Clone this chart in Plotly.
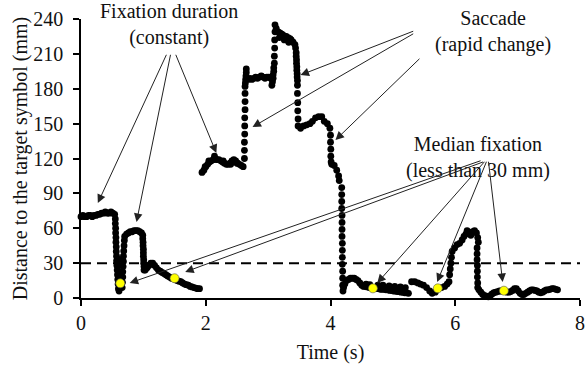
import plotly.graph_objects as go

# ---------------- data ----------------
time_s = [
    # fixation 1 (~72 mm)
    0.00, 0.03, 0.06, 0.09, 0.12, 0.15, 0.18, 0.21, 0.24, 0.27, 0.30, 0.33, 0.36, 0.39, 0.42, 0.45, 0.48, 0.51, 0.54,
    # saccade down
    0.55, 0.55, 0.555, 0.555, 0.56, 0.56, 0.565, 0.565, 0.57, 0.57, 0.575, 0.58, 0.585, 0.59, 0.595,
    0.60, 0.61, 0.62,
    0.60, 0.60, 0.60, 0.60, 0.60,
    # saccade up
    0.66, 0.665, 0.67, 0.67, 0.675, 0.68, 0.68, 0.685, 0.69, 0.695,
    # fixation 2 (~56 mm)
    0.70, 0.73, 0.76, 0.79, 0.82, 0.85, 0.88, 0.91, 0.94, 0.97,
    # drop
    0.99, 0.99, 0.995, 0.995, 1.00, 1.00, 1.00, 1.005, 1.005, 1.01, 1.01,
    # fixation 3 (slow drift down)
    1.03, 1.06, 1.09, 1.12, 1.15, 1.18, 1.21, 1.24, 1.27, 1.30, 1.33, 1.36, 1.39, 1.42, 1.45, 1.48, 1.51, 1.54,
    1.57, 1.60, 1.63, 1.66, 1.69, 1.72, 1.75, 1.78, 1.81, 1.84, 1.87, 1.90,
    # fixation 4 (~116 mm)
    1.94, 1.97, 2.00, 2.03, 2.06, 2.09, 2.12, 2.15, 2.18, 2.21, 2.24, 2.27, 2.30, 2.33, 2.36, 2.39, 2.42, 2.45,
    2.48, 2.51, 2.54, 2.57, 2.60, 1.99, 2.05, 2.14, 2.28, 2.40, 2.50,
    # saccade up
    2.62, 2.62, 2.62, 2.625, 2.625, 2.625, 2.63, 2.63, 2.63,
    # fixation 5 (~190 mm)
    2.63, 2.635, 2.64, 2.645, 2.65, 2.65,
    2.68, 2.71, 2.74, 2.77, 2.80, 2.83, 2.86, 2.89, 2.92, 2.95, 2.98, 3.01, 3.04,
    3.06, 3.07, 3.08, 3.08, 3.09, 3.09,
    # saccade up
    3.10, 3.10, 3.105, 3.105, 3.11,
    # fixation 6 (~226 mm)
    3.11, 3.13, 3.16, 3.19, 3.22, 3.24, 3.27, 3.29, 3.32, 3.35, 3.37, 3.40, 3.43, 3.44, 3.18, 3.26, 3.33,
    # saccade down
    3.45, 3.45, 3.455, 3.455, 3.46, 3.46, 3.465, 3.465, 3.47, 3.47, 3.47, 3.475, 3.475, 3.48,
    # fixation 7 (~150 mm)
    3.48, 3.52, 3.57, 3.62, 3.67, 3.71, 3.76, 3.81, 3.86, 3.90, 3.95, 3.99,
    # saccade down (with a short pause)
    4.00, 4.00, 4.005, 4.005, 4.01,
    4.02, 4.06, 4.10, 4.13, 4.14,
    4.18, 4.18, 4.18, 4.18, 4.185, 4.185, 4.185, 4.185, 4.19, 4.19, 4.19, 4.19, 4.195, 4.195, 4.195, 4.20,
    # fixation 8 (~8 mm)
    4.21, 4.23, 4.26, 4.29, 4.32, 4.35, 4.38, 4.41, 4.44, 4.47, 4.50, 4.53, 4.56, 4.59, 4.62, 4.65, 4.68, 4.71,
    4.74, 4.77, 4.80, 4.83, 4.86, 4.89, 4.92, 4.95, 4.98, 5.01, 5.04, 5.07, 5.10, 5.13, 5.16, 5.19, 5.22, 5.25,
    4.57, 4.63, 4.76, 4.84, 4.94, 5.03, 5.12, 5.20,
    # fixation 9 (~8 mm)
    5.30, 5.35, 5.40, 5.44, 5.49, 5.54, 5.59, 5.63, 5.68, 5.73, 5.78, 5.83, 5.87, 5.90,
    # rise
    5.91, 5.92, 5.93, 5.94, 5.95, 5.99, 6.03, 6.07, 6.11, 6.14,
    # fixation 10 (~56 mm)
    6.17, 6.19, 6.22, 6.25, 6.28, 6.31, 6.34, 6.36, 6.37,
    # drop
    6.35, 6.35, 6.35, 6.355, 6.355, 6.355, 6.36, 6.36,
    # fixation 11 (~6 mm)
    6.38, 6.41, 6.44, 6.47, 6.50, 6.53, 6.56, 6.59, 6.62, 6.65, 6.68, 6.71, 6.74, 6.77, 6.80, 6.83, 6.86, 6.89,
    6.92, 6.95, 6.98, 7.01, 7.04, 7.07, 7.10, 7.13, 7.16, 7.19, 7.22, 7.25, 7.28, 7.31, 7.34, 7.37, 7.40, 7.43,
    7.46, 7.49, 7.52, 7.55, 7.58, 7.61, 7.64,
]

distance_mm = [
    70, 71, 70, 70, 71, 71, 70, 71, 71, 72, 72, 73, 73, 74, 73, 73, 74, 73, 72,
    68, 64, 60, 56, 52, 48, 44, 40, 36, 32, 28, 24, 20, 16, 12,
    8, 6, 9,
    13, 18, 23, 28, 33,
    9, 13.5, 18, 22.5, 27, 31.5, 36, 40.5, 45, 49.5,
    53, 55, 56, 57, 57, 58, 58, 58, 57, 56,
    54, 51, 48, 45, 42, 39, 36, 33, 30, 27, 24,
    24, 26, 28, 30, 30, 28, 26, 24, 23, 22, 21, 20, 19, 18, 17, 16.5, 16, 15,
    14.5, 14, 13, 12, 11.5, 11, 10, 9.5, 9, 8.5, 8, 8,
    108, 110, 113, 115, 117, 118, 119, 120, 119, 119, 118, 117, 116, 115, 115, 116, 118, 119,
    118, 116, 115, 114, 113, 113, 118, 122, 118, 115, 116,
    120, 127, 134, 141, 148, 155, 162, 169, 176,
    182, 185, 188, 191, 194, 197,
    188, 189, 188, 189, 190, 189, 190, 191, 190, 189, 190, 190, 189,
    183, 186, 189, 192, 195, 198,
    202, 208, 215, 222, 229,
    235, 232, 229, 228, 227, 226, 225, 225, 224, 223, 222, 220, 218, 215, 224, 222, 220,
    211, 208, 205, 202, 199, 196, 193, 190, 187, 183, 176, 168, 161, 154,
    148, 146, 148, 149, 150, 152, 155, 156, 156, 152, 150, 146,
    140, 134, 128, 122, 117,
    115, 114, 110, 105, 101,
    95, 89, 83, 77, 71, 65, 59, 53, 47, 41, 35, 29, 23, 17, 11, 6,
    9, 12, 15, 16, 17, 17, 17, 16, 15, 13, 11, 10, 10, 9.5, 9, 9, 8.5, 8.5,
    8, 8, 7.5, 7.5, 7.5, 7, 7, 6.5, 6.5, 6, 6, 5.5, 5.5, 5, 5, 4.5, 4.5, 4,
    12, 11.5, 11, 11, 10.5, 10, 9.5, 9,
    14, 14, 13, 12, 11, 9, 6, 4, 5, 8, 9, 10, 12, 14,
    20, 25, 30, 35, 40, 43, 46, 47, 50, 53,
    55, 58, 56, 54, 57, 58, 56, 52, 48,
    43, 38, 33, 28, 23, 18, 13, 9,
    7, 5, 3, 2, 1.5, 1, 2, 3.5, 4.5, 5, 5.5, 6, 6, 6, 5.5, 5, 5, 5.5,
    6.5, 8, 8, 6, 4, 3, 3, 4, 5, 6, 7, 7, 6.5, 6, 5, 4.5, 5, 6,
    7, 7, 7.5, 8, 8, 7.5, 7,
]

median_t = [0.63, 1.50, 4.68, 5.72, 6.78]
median_d = [12.6, 17.0, 8.3, 8.3, 6.3]

x_ticks = [0, 2, 4, 6, 8]
y_ticks = [0, 30, 60, 90, 120, 150, 180, 210, 240]
threshold_mm = 30

FONT = "Liberation Serif"
fig = go.Figure()

fig.add_trace(go.Scatter(
    x=time_s, y=distance_mm, mode="markers",
    marker=dict(color="black", size=6.8, line=dict(width=0)),
    cliponaxis=False, showlegend=False, hoverinfo="skip"))

fig.add_trace(go.Scatter(
    x=median_t, y=median_d, mode="markers",
    marker=dict(color="#ffff00", size=9, line=dict(color="#555555", width=0.6)),
    cliponaxis=False, showlegend=False, hoverinfo="skip"))

fig.add_shape(type="line", xref="x", yref="y", x0=0, x1=8, y0=threshold_mm, y1=threshold_mm,
              line=dict(color="black", width=2, dash="10px,6px"), layer="below")

annotations = []
def txt(x, y, s):
    annotations.append(dict(x=x, y=y, xref="x", yref="y", text=s, showarrow=False,
                            font=dict(family=FONT, size=20, color="#111"), align="center"))

def arrow(tx, ty, hx, hy):
    annotations.append(dict(x=hx, y=hy, ax=tx, ay=ty, xref="x", yref="y", axref="x", ayref="y",
                            text="", showarrow=True, arrowhead=2, arrowsize=1.7, arrowwidth=1,
                            arrowcolor="#222", standoff=0, startstandoff=0))

txt(1.41, 235.5, "Fixation duration<br>(constant)")
txt(6.60, 229.5, "Saccade<br>(rapid change)")
txt(6.37, 121, "Median fixation<br>(less than 30 mm)")

# fixation arrows
arrow(1.38, 210.5, 0.27, 81.7)
arrow(1.44, 210.5, 0.89, 65.4)
arrow(1.51, 210.5, 2.17, 124.7)
# saccade arrows
arrow(5.35, 230, 3.52, 191.8)
arrow(5.35, 228, 2.75, 147.1)
arrow(5.45, 207, 4.08, 135.9)
# median arrows
arrow(6.43, 118.5, 0.78, 12.9)
arrow(6.47, 117.5, 1.67, 22.4)
arrow(6.49, 118.5, 4.75, 12.9)
arrow(6.51, 118.5, 5.71, 13.8)
arrow(6.53, 118.5, 6.76, 13.8)

fig.update_layout(
    width=588, height=372,
    margin=dict(l=81, r=3, t=19, b=74),
    paper_bgcolor="white", plot_bgcolor="white",
    font=dict(family=FONT, size=20, color="#111"),
    annotations=annotations,
    xaxis=dict(range=[0, 8], tickvals=x_ticks, ticktext=[str(v) for v in x_ticks],
               showline=True, linecolor="black", linewidth=1.5,
               ticks="outside", ticklen=6, tickwidth=1.5, tickcolor="black",
               showgrid=False, zeroline=False, ticklabeloverflow="allow",
               title=dict(text="Time (s)", standoff=12, font=dict(family=FONT, size=20)),
               tickfont=dict(family=FONT, size=20)),
    yaxis=dict(range=[0, 240], tickvals=y_ticks, ticktext=[str(v) for v in y_ticks],
               showline=True, linecolor="black", linewidth=1.5,
               ticks="outside", ticklen=6, tickwidth=1.5, tickcolor="black",
               showgrid=False, zeroline=False, ticklabelstandoff=6,
               title=dict(text="Distance to the target symbol (mm)", standoff=0,
                          font=dict(family=FONT, size=20)),
               tickfont=dict(family=FONT, size=20)),
)

fig.write_html("out.html")
